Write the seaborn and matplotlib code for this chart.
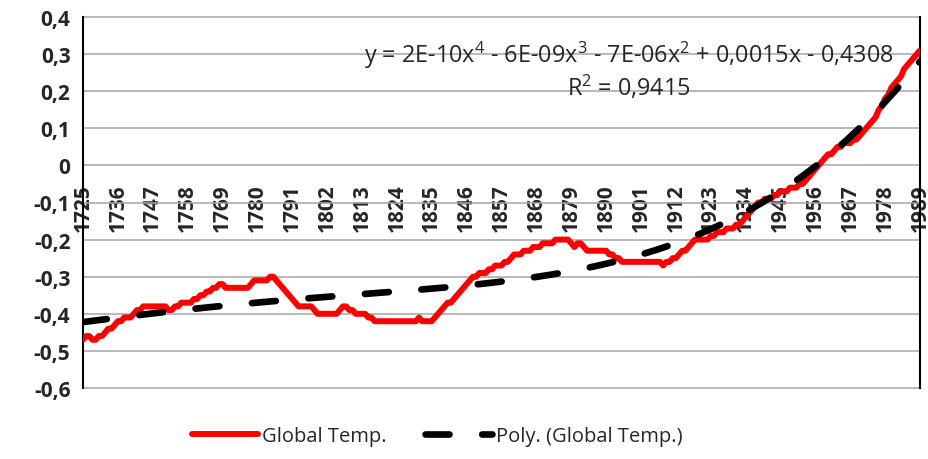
import numpy as np
import pandas as pd
import matplotlib
matplotlib.use("Agg")
import matplotlib.pyplot as plt
import seaborn as sns

# Annual temperature anomaly series, 1725-1989
years = list(range(1725, 1990))
global_temp = [
    -0.47, -0.46, -0.46, -0.47, -0.47, -0.46, -0.46, -0.45, -0.44, -0.44,  # 1725
    -0.43, -0.42, -0.42, -0.41, -0.41, -0.41, -0.40, -0.39, -0.39, -0.38,  # 1735
    -0.38, -0.38, -0.38, -0.38, -0.38, -0.38, -0.38, -0.39, -0.39, -0.38,  # 1745
    -0.38, -0.37, -0.37, -0.37, -0.37, -0.36, -0.36, -0.35, -0.35, -0.34,  # 1755
    -0.34, -0.33, -0.33, -0.32, -0.32, -0.33, -0.33, -0.33, -0.33, -0.33,  # 1765
    -0.33, -0.33, -0.33, -0.32, -0.31, -0.31, -0.31, -0.31, -0.31, -0.30,  # 1775
    -0.30, -0.31, -0.32, -0.33, -0.34, -0.35, -0.36, -0.37, -0.38, -0.38,  # 1785
    -0.38, -0.38, -0.38, -0.39, -0.40, -0.40, -0.40, -0.40, -0.40, -0.40,  # 1795
    -0.40, -0.39, -0.38, -0.38, -0.39, -0.39, -0.40, -0.40, -0.40, -0.40,  # 1805
    -0.41, -0.41, -0.42, -0.42, -0.42, -0.42, -0.42, -0.42, -0.42, -0.42,  # 1815
    -0.42, -0.42, -0.42, -0.42, -0.42, -0.42, -0.41, -0.42, -0.42, -0.42,  # 1825
    -0.42, -0.41, -0.40, -0.39, -0.38, -0.37, -0.37, -0.36, -0.35, -0.34,  # 1835
    -0.33, -0.32, -0.31, -0.30, -0.30, -0.29, -0.29, -0.29, -0.28, -0.28,  # 1845
    -0.27, -0.27, -0.27, -0.26, -0.26, -0.25, -0.24, -0.24, -0.24, -0.23,  # 1855
    -0.23, -0.23, -0.22, -0.22, -0.22, -0.21, -0.21, -0.21, -0.21, -0.20,  # 1865
    -0.20, -0.20, -0.20, -0.20, -0.21, -0.22, -0.21, -0.21, -0.22, -0.23,  # 1875
    -0.23, -0.23, -0.23, -0.23, -0.23, -0.23, -0.24, -0.24, -0.25, -0.25,  # 1885
    -0.26, -0.26, -0.26, -0.26, -0.26, -0.26, -0.26, -0.26, -0.26, -0.26,  # 1895
    -0.26, -0.26, -0.26, -0.27, -0.26, -0.26, -0.25, -0.25, -0.24, -0.23,  # 1905
    -0.23, -0.22, -0.21, -0.20, -0.20, -0.20, -0.20, -0.20, -0.19, -0.19,  # 1915
    -0.18, -0.18, -0.18, -0.17, -0.17, -0.17, -0.16, -0.16, -0.15, -0.14,  # 1925
    -0.13, -0.12, -0.11, -0.10, -0.10, -0.09, -0.09, -0.09, -0.08, -0.08,  # 1935
    -0.07, -0.07, -0.07, -0.06, -0.06, -0.06, -0.05, -0.05, -0.04, -0.03,  # 1945
    -0.02, -0.01, 0.00, 0.01, 0.02, 0.03, 0.03, 0.04, 0.05, 0.05,          # 1955
    0.06, 0.06, 0.06, 0.07, 0.07, 0.08, 0.09, 0.10, 0.11, 0.12,            # 1965
    0.13, 0.15, 0.16, 0.18, 0.19, 0.21, 0.22, 0.23, 0.24, 0.26,            # 1975
    0.27, 0.28, 0.29, 0.30, 0.31,                                          # 1985
]

y_ticks = [0.4, 0.3, 0.2, 0.1, 0.0, -0.1, -0.2, -0.3, -0.4, -0.5, -0.6]
label_step = 11
series_name = "Global Temp."
trend_name = "Poly. (Global Temp.)"
equation_text = (r"y = 2E-10x$\mathregular{^4}$ - 6E-09x$\mathregular{^3}$ - "
                 r"7E-06x$\mathregular{^2}$ + 0,0015x - 0,4308")
r2_text = r"R$\mathregular{^2}$ = 0,9415"

sns.set_style("white")
plt.rcParams["font.family"] = ["Open Sans", "DejaVu Sans"]

df = pd.DataFrame({"idx": np.arange(len(years)), "year": years, "temp": global_temp})
# 4th-order polynomial trendline over category positions 1..N
coef = np.polyfit(df["idx"] + 1, df["temp"], 4)
df["trend"] = np.polyval(coef, df["idx"] + 1)

W, H = 929, 460
fig = plt.figure(figsize=(W / 100, H / 100), dpi=100)
left, right, top, bottom = 83, 920, 18, 389
ax = fig.add_axes([left / W, 1 - bottom / H, (right - left) / W, (bottom - top) / H])

sns.lineplot(data=df, x="idx", y="temp", ax=ax, color="#FF0000", lw=4.3,
             solid_capstyle="round", solid_joinstyle="round", label=series_name, zorder=3)
sns.lineplot(data=df, x="idx", y="trend", ax=ax, color="black", lw=4.8,
             linestyle=(0, (3.6, 4.9)), dash_capstyle="round", label=trend_name, zorder=4)

# horizontal category axis crosses the value axis at 0
ax.spines["bottom"].set_position(("data", 0))
ax.spines["bottom"].set_visible(False)
ax.spines["top"].set_visible(False)
for s in ("left", "right"):
    ax.spines[s].set_color("black")
    ax.spines[s].set_linewidth(1.5)

ax.set_xlim(0, len(years) - 1)
ax.set_ylim(-0.6, 0.4)
ax.set_yticks(y_ticks)
ax.set_yticklabels(["0" if abs(v) < 1e-9 else f"{v:.1f}".replace(".", ",") for v in y_ticks],
                   fontsize=15, fontweight="bold")
xt = list(range(0, len(years), label_step))
ax.set_xticks(xt)
ax.set_xticklabels([str(years[i]) for i in xt], fontsize=15, fontweight="bold")
ax.set_xlabel("")
ax.set_ylabel("")
ax.tick_params(axis="x", length=0, pad=13, labelrotation=90)
ax.tick_params(axis="y", length=0, pad=9)
for lbl in ax.get_xticklabels():
    lbl.set_va("top")
    lbl.set_ha("center")
ax.grid(axis="y", color="#A6A6A6", lw=1.1)
ax.grid(axis="x", visible=False)
for gl in ax.get_ygridlines():
    gl.set_clip_on(False)

handles, labels = ax.get_legend_handles_labels()
ax.get_legend().remove()
fig.legend(handles, labels, loc="center", bbox_to_anchor=(437 / W, 1 - 437 / H), ncol=2,
           frameon=False, fontsize=14.5, handlelength=3.3, handletextpad=0.2,
           columnspacing=1.9)

fig.text(629 / W, 1 - 55 / H, equation_text, ha="center", va="center", fontsize=16.8)
fig.text(629 / W, 1 - 88 / H, r2_text, ha="center", va="center", fontsize=16.8)

fig.savefig("out.png", dpi=100)
